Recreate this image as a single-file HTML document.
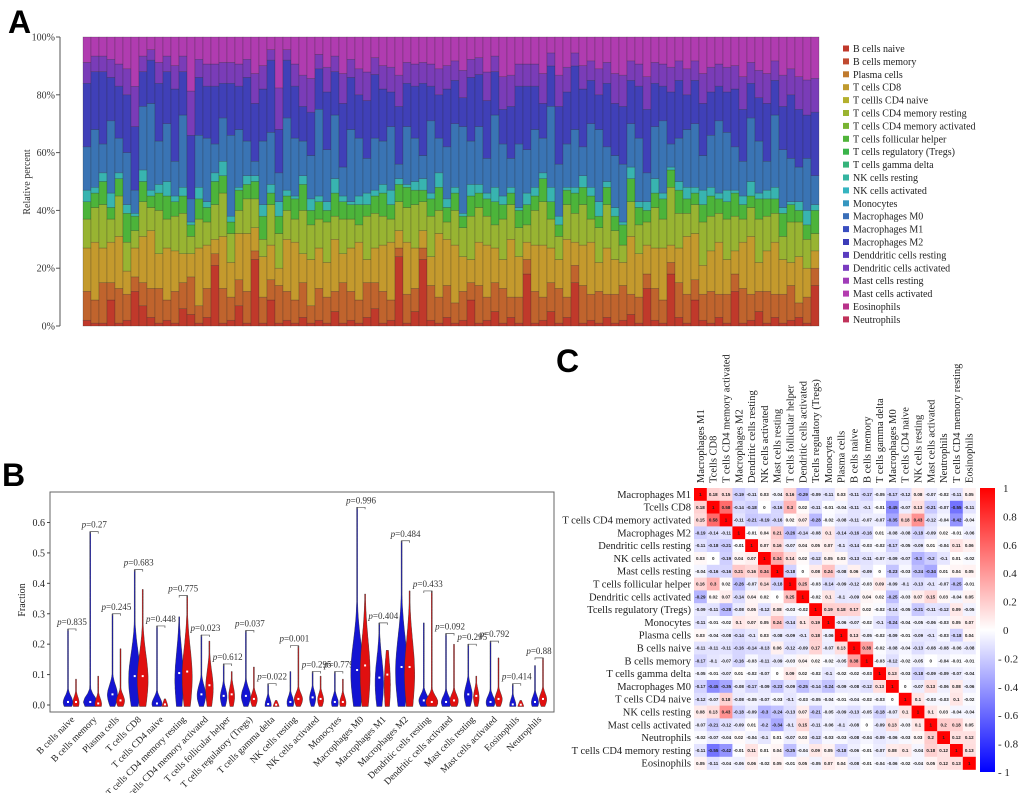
<!DOCTYPE html>
<html><head><meta charset="utf-8"><style>
html,body{margin:0;padding:0;background:#fff;}
svg{display:block;font-family:"Liberation Serif",serif;}
.pl{font-family:"Liberation Sans",sans-serif;font-weight:bold;}
</style></head><body>
<svg id="fig" width="1020" height="793" viewBox="0 0 1020 793" xmlns="http://www.w3.org/2000/svg">
<text class="pl" x="8" y="33" font-size="32">A</text>
<text class="pl" x="2" y="486" font-size="32">B</text>
<text class="pl" x="556" y="372" font-size="32">C</text>
<g id="pa"></g>
<g id="pb"></g>
<g id="pc"></g>
</svg>
<script>
// ===== Panel A data (segment heights in %, per sample) =====
const aRed=[2,1,1,9,1,2,12,7,3,1,2,1,6,4,1,3,21,1,2,7,1,23,1,9,1,2,1,3,1,2,1,5,1,2,1,3,6,1,2,24,1,5,23,2,1,3,1,2,9,1,2,5,1,3,1,18,1,2,5,1,3,15,1,2,1,3,1,2,4,1,13,2,1,18,3,1,9,2,1,3,1,12,1,2,5,1,3,1,2,3,1,14];
const aOrange=[10,8,14,6,12,9,5,8,10,12,7,11,9,13,6,10,4,12,8,9,11,3,9,7,13,10,8,12,6,11,9,7,14,10,8,12,9,11,7,3,10,8,4,12,9,11,7,10,6,13,8,10,12,7,9,5,11,8,10,12,7,6,13,9,11,8,10,12,7,9,5,11,8,4,12,10,7,9,11,8,10,6,12,9,7,11,8,10,12,5,9,6];
const aGold=[15,20,12,14,18,8,10,16,20,12,18,14,10,8,20,15,5,18,12,16,20,8,14,12,6,18,20,10,16,14,12,18,10,15,20,8,12,16,20,6,18,14,6,10,22,16,20,12,8,15,18,12,10,20,14,6,16,18,12,10,20,8,14,18,10,16,12,8,20,15,10,14,18,6,12,20,16,10,14,18,12,8,16,20,10,14,18,12,8,16,10,6];
const aLime=[10,12,15,8,14,10,6,12,8,15,10,12,14,6,10,8,12,15,10,8,12,10,6,14,12,10,8,15,12,10,14,8,12,10,6,15,12,10,8,10,12,15,10,14,8,6,12,10,15,12,10,8,14,12,10,6,12,15,10,8,12,10,14,8,12,15,10,6,12,10,8,14,10,20,12,8,10,15,12,10,14,12,8,10,15,12,10,8,14,12,10,6];
const aGreen=[6,5,8,4,6,10,5,7,4,6,8,5,6,4,7,5,8,6,4,7,5,6,8,4,6,5,7,9,5,6,4,8,6,5,7,4,6,8,5,6,7,5,4,6,8,5,6,4,7,5,6,8,5,4,6,7,5,8,6,4,5,7,6,8,4,6,5,7,8,6,4,5,7,6,8,5,4,6,7,5,6,8,5,4,7,6,5,8,6,4,5,8];
const aCyan=[4,2,3,5,2,3,1,4,2,3,5,2,3,1,4,2,3,5,2,1,3,2,4,3,5,2,1,3,4,2,3,5,2,1,3,4,2,3,5,2,1,3,4,2,5,3,2,1,4,3,2,5,3,2,1,4,3,2,5,3,1,2,4,3,5,2,3,1,4,2,3,5,2,1,3,4,2,5,3,2,4,1,3,5,2,3,4,2,1,3,5,2];
const aM0=[15,20,10,25,12,18,8,22,30,15,20,12,25,8,18,22,10,15,28,20,12,5,22,18,10,25,20,12,15,30,18,22,10,25,20,12,18,15,22,5,20,15,8,25,12,18,22,30,15,20,12,25,18,10,22,15,20,12,28,18,15,20,10,22,25,12,18,20,15,22,10,18,25,8,15,20,22,12,18,25,20,15,12,22,18,10,25,20,15,12,18,10];
const aM2=[22,20,25,15,18,20,22,12,15,20,18,25,15,22,20,18,20,12,18,15,22,20,18,25,15,20,18,12,15,14,20,15,22,18,15,20,22,18,12,20,15,18,25,12,15,20,15,10,22,18,20,15,12,18,20,22,15,12,14,20,18,22,20,15,12,22,18,20,15,18,22,15,12,18,20,12,15,18,15,12,14,20,18,12,15,20,12,15,22,20,15,22];
const aTicks=["0%","20%","40%","60%","80%","100%"];
const legendNames=["B cells naive","B cells memory","Plasma cells","T cells CD8","T cellls CD4 naive","T cells CD4 memory resting","T cells CD4 memory activated","T cells follicular helper","T cells regulatory (Tregs)","T cells gamma delta","NK cells resting","NK cells activated","Monocytes","Macrophages M0","Macrophages M1","Macrophages M2","Denddritic cells resting","Dendritic cells activated","Mast cells resting","Mast cells activated","Eosinophils","Neutrophils"];
const legendColors=["#c0392b","#c04a30","#c07a2d","#c09a2d","#b4b02d","#9ab430","#78b432","#50b43a","#3ab44a","#35b47a","#35b4a0","#35b4c0","#3596c0","#3a6eb8","#3a4ec0","#3c3cb8","#5a3cc0","#7a3cc0","#a03cb8","#b43cb0","#b8328a","#c0325a"];

// ===== Panel B data =====
const bCats=["B cells naive","B cells memory","Plasma cells","T cells CD8","T cells CD4 naive","T cells CD4 memory resting","T cells CD4 memory activated","T cells follicular helper","T cells regulatory (Tregs)","T cells gamma delta","NK cells resting","NK cells activated","Monocytes","Macrophages M0","Macrophages M1","Macrophages M2","Dendritic cells resting","Dendritic cells activated","Mast cells resting","Mast cells activated","Eosinophils","Neutrophils"];
const bBlueMax=[0.25,0.57,0.30,0.445,0.26,0.29,0.23,0.135,0.245,0.07,0.11,0.11,0.11,0.65,0.27,0.54,0.27,0.235,0.20,0.21,0.07,0.13];
const bRedMax=[0.085,0.095,0.185,0.38,0.02,0.36,0.21,0.11,0.125,0.015,0.195,0.095,0.085,0.365,0.18,0.375,0.375,0.20,0.095,0.155,0.015,0.155];
const bBlueMed=[0.01,0.01,0.035,0.095,0.005,0.105,0.035,0.03,0.03,0.003,0.01,0.025,0.01,0.115,0.09,0.125,0.015,0.01,0.035,0.01,0.002,0.01];
const bRedMed=[0.01,0.005,0.015,0.095,0.002,0.11,0.065,0.035,0.02,0.001,0.02,0.02,0.01,0.13,0.10,0.125,0.01,0.015,0.03,0.02,0.001,0.02];
const bPvals=["0.835","0.27","0.245","0.683","0.448","0.775","0.023","0.612","0.037","0.022","0.001","0.295","0.779","0.996","0.404","0.484","0.433","0.092","0.295","0.792","0.414","0.88"];
const bTicks=[0,0.1,0.2,0.3,0.4,0.5,0.6];

// ===== Panel C data =====
const cNames=["Macrophages M1","Tcells CD8","T cells CD4 memory activated","Macrophages M2","Dendritic cells resting","NK cells activated","Mast cells resting","T cells follicular helper","Dendritic cells activated","Tcells regulatory (Tregs)","Monocytes","Plasma cells","B cells naive","B cells memory","T cells gamma delta","Macrophages M0","T cells CD4 naive","NK cells resting","Mast cells activated","Neutrophils","T cells CD4 memory resting","Eosinophils"];
const cR1=[1,0.18,0.15,-0.19,-0.11,0.03,-0.04,0.16,-0.29,-0.09,-0.11,0.03,-0.11,-0.17,-0.05,-0.17,-0.12,0.08,-0.07,-0.02,-0.11,0.05];
const cR2=[0.18,1,0.58,-0.14,-0.18,0,-0.16,0.3,0.02,-0.11,-0.01,-0.04,-0.11,-0.1,-0.01,-0.45,-0.07,0.13,-0.21,-0.07,-0.55,-0.11];
const cR3=[0.15,0.58,1,-0.11,-0.21,-0.19,-0.16,0.02,0.07,-0.28,-0.02,-0.08,-0.11,-0.07,-0.07,-0.35,0.18,0.43,-0.12,-0.04,-0.42,-0.04];
const cR4=[-0.19,-0.14,-0.11,1,-0.01,0.04,0.21,-0.26,-0.14,-0.08,0.1,-0.14,-0.16,-0.16,0.01,-0.08,-0.08,-0.18,-0.09,0.02,-0.01,-0.06];
const cR5=[-0.11,-0.18,-0.21,-0.01,1,0.07,0.16,-0.07,0.04,0.05,0.07,-0.1,-0.14,-0.03,-0.02,-0.17,-0.05,-0.09,0.01,-0.04,0.11,0.06];
const cR6=[0.03,0,-0.19,0.04,0.07,1,0.34,0.14,0.02,-0.12,0.05,0.03,-0.13,-0.11,-0.07,-0.09,-0.07,-0.3,-0.2,-0.1,0.01,-0.02];
const cR7=[-0.04,-0.16,-0.16,0.21,0.16,0.34,1,-0.18,0,0.08,0.24,-0.08,0.06,-0.09,0,-0.23,-0.03,-0.24,-0.34,0.01,0.04,0.05];
const cR8=[0.16,0.3,0.02,-0.26,-0.07,0.14,-0.18,1,0.25,-0.03,-0.14,-0.09,-0.12,-0.03,0.09,-0.09,-0.1,-0.13,-0.1,-0.07,-0.25,-0.01];
const cR9=[-0.29,0.02,0.07,-0.14,0.04,0.02,0,0.25,1,-0.02,0.1,-0.1,-0.09,0.04,0.02,-0.25,-0.03,0.07,0.15,0.03,-0.04,0.05];
const cR10=[-0.09,-0.11,-0.28,-0.08,0.05,-0.12,0.08,-0.03,-0.02,1,0.19,0.18,0.17,0.02,-0.02,-0.14,-0.05,-0.21,-0.11,-0.12,0.09,-0.05];
const cR11=[-0.11,-0.01,-0.02,0.1,0.07,0.05,0.24,-0.14,0.1,0.19,1,-0.06,-0.07,-0.02,-0.1,-0.24,-0.04,-0.05,-0.06,-0.03,0.05,0.07];
const cR12=[0.03,-0.04,-0.08,-0.14,-0.1,0.03,-0.08,-0.09,-0.1,0.18,-0.06,1,0.13,-0.05,-0.02,-0.09,-0.01,-0.09,-0.1,-0.03,-0.18,0.04];
const cR13=[-0.11,-0.11,-0.11,-0.16,-0.14,-0.13,0.06,-0.12,-0.09,0.17,-0.07,0.13,1,0.38,-0.02,-0.08,-0.04,-0.13,-0.08,-0.08,-0.06,-0.08];
const cR14=[-0.17,-0.1,-0.07,-0.16,-0.03,-0.11,-0.09,-0.03,0.04,0.02,-0.02,-0.05,0.38,1,-0.03,-0.12,-0.02,-0.05,0,-0.04,-0.01,-0.01];
const cR15=[-0.05,-0.01,-0.07,0.01,-0.02,-0.07,0,0.09,0.02,-0.02,-0.1,-0.02,-0.02,-0.03,1,0.13,-0.03,-0.18,-0.09,-0.09,-0.07,-0.04];
const cR16=[-0.17,-0.45,-0.35,-0.08,-0.17,-0.09,-0.23,-0.09,-0.25,-0.14,-0.24,-0.09,-0.08,-0.12,0.13,1,0,-0.07,0.13,-0.06,0.08,-0.06];
const cR17=[-0.12,-0.07,0.18,-0.08,-0.05,-0.07,-0.03,-0.1,-0.03,-0.05,-0.04,-0.01,-0.04,-0.02,-0.03,0,1,0.1,-0.03,-0.03,0.1,-0.02];
const cR18=[0.08,0.13,0.43,-0.18,-0.09,-0.3,-0.24,-0.13,0.07,-0.21,-0.05,-0.09,-0.13,-0.05,-0.18,-0.07,0.1,1,0.1,0.03,-0.04,-0.04];
const cR19=[-0.07,-0.21,-0.12,-0.09,0.01,-0.2,-0.34,-0.1,0.15,-0.11,-0.06,-0.1,-0.08,0,-0.09,0.13,-0.03,0.1,1,0.2,0.18,0.05];
const cR20=[-0.02,-0.07,-0.04,0.02,-0.04,-0.1,0.01,-0.07,0.03,-0.12,-0.03,-0.03,-0.08,-0.04,-0.09,-0.06,-0.03,0.03,0.2,1,0.12,0.12];
const cR21=[-0.11,-0.55,-0.42,-0.01,0.11,0.01,0.04,-0.25,-0.04,0.09,0.05,-0.18,-0.06,-0.01,-0.07,0.08,0.1,-0.04,0.18,0.12,1,0.13];
const cR22=[0.05,-0.11,-0.04,-0.06,0.06,-0.02,0.05,-0.01,0.05,-0.05,0.07,0.04,-0.08,-0.01,-0.04,-0.06,-0.02,-0.04,0.05,0.12,0.13,1];
const cMatrix=[cR1,cR2,cR3,cR4,cR5,cR6,cR7,cR8,cR9,cR10,cR11,cR12,cR13,cR14,cR15,cR16,cR17,cR18,cR19,cR20,cR21,cR22];
const cbTicks=[1,0.8,0.6,0.4,0.2,0,-0.2,-0.4,-0.6,-0.8,-1];

const NS="http://www.w3.org/2000/svg";
function mk(parent,tag,attrs,text){const e=document.createElementNS(NS,tag);for(const k in attrs)e.setAttribute(k,attrs[k]);if(text!==undefined)e.textContent=text;parent.appendChild(e);return e;}

// ===== Panel A =====
(function(){
  const g=document.getElementById('pa');
  const x0=83,x1=819,yTop=37,yBot=326;
  const y=v=>yBot-(v/100)*(yBot-yTop);
  const n=aRed.length,bw=(x1-x0)/n;
  const ax=mk(g,'line',{x1:60,y1:yTop,x2:60,y2:yBot,stroke:'#555','stroke-width':1});
  
  
  aTicks.forEach((t,i)=>{
    const yy=y(i*20);
    const tk=mk(g,'line',{x1:56,y1:yy,x2:60,y2:yy,stroke:'#555'});
    
    
    const tl=mk(g,'text',{x:55,y:yy+3.5,'font-size':10,'text-anchor':'end',fill:'#333'},t);
    
    
  });
  const yt=mk(g,'text',{x:0,y:0,'font-size':10,'text-anchor':'middle',fill:'#333',transform:'translate(30,182) rotate(-90)'},'Relative percent');
  
  
  const segs=[[aRed,'#c0392b'],[aOrange,'#c0642d'],[aGold,'#c49a2d'],[aLime,'#98b432'],[aGreen,'#4cb43a'],[aCyan,'#38b4b0'],[aM0,'#3a74b4'],[aM2,'#4040b8']];
  for(let i=0;i<n;i++){
    let cum=0;
    const bx=x0+i*bw;
    segs.forEach(([arr,col])=>{
      const v=Math.min(arr[i],100-cum);
      const r=mk(g,'rect',{x:bx,y:y(cum+v),width:bw,height:(v/100)*(yBot-yTop),fill:col,stroke:'rgba(40,40,40,0.45)','stroke-width':0.5});
      
      
      cum+=v;
    });
    const rest=100-cum;
    const v1=rest*0.45;
    const r1=mk(g,'rect',{x:bx,y:y(cum+v1),width:bw,height:(v1/100)*(yBot-yTop),fill:'#7a3cb8',stroke:'rgba(40,40,40,0.45)','stroke-width':0.5});
    
    
    const r2=mk(g,'rect',{x:bx,y:yTop,width:bw,height:((rest-v1)/100)*(yBot-yTop),fill:'#b03cb0',stroke:'rgba(40,40,40,0.45)','stroke-width':0.5});
    
    
  }
  legendNames.forEach((nm,i)=>{
    const yy=49+i*12.9;
    const sq=mk(g,'rect',{x:843,y:yy-3.5,width:6,height:6,fill:legendColors[i]});
    
    
    const t=mk(g,'text',{x:853,y:yy+3,'font-size':10,fill:'#222'},nm);
    
    
  });
})();

// ===== Panel B =====
(function(){
  const g=document.getElementById('pb');
  const L=50,R=554,T=492,B=712;
  const y0=705,pxPer=(705-522.5)/0.6;
  const y=v=>y0-v*pxPer;
  const box=mk(g,'rect',{x:L,y:T,width:R-L,height:B-T,fill:'none',stroke:'#666','stroke-width':1});
  
  
  bTicks.forEach(t=>{
    const yy=y(t);
    const tk=mk(g,'line',{x1:L-3,y1:yy,x2:L,y2:yy,stroke:'#444'});
    
    
    const tl=mk(g,'text',{x:L-5,y:yy+3.5,'font-size':10,'text-anchor':'end',fill:'#222'},t.toFixed(1));
    
    
  });
  const yt=mk(g,'text',{x:0,y:0,'font-size':10,'text-anchor':'middle',fill:'#222',transform:'translate(25,600) rotate(-90)'},'Fraction');
  
  
  const cx0=72,step=(539-72)/21;
  function violin(cx,max,med,col,name){
    const sd=Math.max(0.02,med*0.9);
    const w=Math.min(7,2.5+max*10);
    const pts=[];const N=40;
    const lo=-0.005;
    for(let k=0;k<=N;k++){const v=lo+(max-lo)*k/N;const hw=Math.max(0.5,w*Math.exp(-Math.pow((v-med)/sd,2)/2)*(1-0.6*v/max));pts.push([cx+hw,y(v)]);}
    const left=[];for(let k=N;k>=0;k--){const v=lo+(max-lo)*k/N;const hw=Math.max(0.5,w*Math.exp(-Math.pow((v-med)/sd,2)/2)*(1-0.6*v/max));left.push([cx-hw,y(v)]);}
    const p=mk(g,'polygon',{points:pts.concat(left).map(q=>q[0].toFixed(1)+','+q[1].toFixed(1)).join(' '),fill:col,stroke:'#333','stroke-width':0.4});
    
    
    const d=mk(g,'rect',{x:cx-1,y:y(med)-1,width:2,height:2,fill:'#fff'});
    
    
  }
  bCats.forEach((c,i)=>{
    const cx=cx0+i*step;
    violin(cx-4,bBlueMax[i],bBlueMed[i],'#1414d2','violin-normal');
    violin(cx+4,bRedMax[i],bRedMed[i],'#e01010','violin-tumor');
    const top=Math.max(bBlueMax[i],bRedMax[i]);
    const by=y(top);
    const br=mk(g,'path',{d:`M${cx-4},${by+2}V${by}H${cx+4}V${by+2}`,fill:'none',stroke:'#555','stroke-width':0.7});
    
    
    const pt=mk(g,'text',{x:cx,y:by-4,'font-size':9,'text-anchor':'middle',fill:'#333'});
    
    
    mk(pt,'tspan',{'font-style':'italic'},'p');
    mk(pt,'tspan',{},'='+bPvals[i]);
    const xl=mk(g,'text',{x:0,y:0,'font-size':9.5,'text-anchor':'end',fill:'#222',transform:`translate(${cx+3},${B+8}) rotate(-45)`},c);
    
    
  });
})();

// ===== Panel C =====
(function(){
  const g=document.getElementById('pc');
  const X0=694,Y0=488,cs=12.8;
  function col(v){
    const t=Math.max(-1,Math.min(1,v));
    if(t>=0){const k=Math.round(255*(1-t));return `rgb(255,${k},${k})`;}
    const k=Math.round(255*(1+t));return `rgb(${k},${k},255)`;
  }
  cNames.forEach((nm,i)=>{
    const rl=mk(g,'text',{x:X0-3,y:Y0+i*cs+cs/2+3.5,'font-size':10.5,'text-anchor':'end',fill:'#222'},nm);
    
    
    const cl=mk(g,'text',{x:0,y:0,'font-size':10.5,'text-anchor':'start',fill:'#222',transform:`translate(${X0+i*cs+cs/2+3.5},${Y0-5}) rotate(-90)`},nm);
    
    
  });
  cMatrix.forEach((row,i)=>{
    row.forEach((v,j)=>{
      const r=mk(g,'rect',{x:X0+j*cs,y:Y0+i*cs,width:cs+0.2,height:cs+0.2,fill:col(v)});
      
      
      const t=mk(g,'text',{x:X0+j*cs+cs/2,y:Y0+i*cs+cs/2+1.6,'font-size':4.5,'font-weight':'bold','text-anchor':'middle',fill:'#222','font-family':'Liberation Sans,sans-serif'},String(v));
      
      
    });
  });
  const defs=mk(g,'defs',{});
  const lg=mk(defs,'linearGradient',{id:'cbg',x1:0,y1:0,x2:0,y2:1});
  mk(lg,'stop',{offset:'0','stop-color':'#ff0000'});
  mk(lg,'stop',{offset:'0.5','stop-color':'#ffffff'});
  mk(lg,'stop',{offset:'1','stop-color':'#0000ff'});
  const cbT=488,cbB=772;
  const cb=mk(g,'rect',{x:980,y:cbT,width:15,height:cbB-cbT,fill:'url(#cbg)'});
  
  
  cbTicks.forEach(t=>{
    const yy=cbT+(1-t)/2*(cbB-cbT);
    const lab=t<0?'- '+String(-t):String(t);
    const tl=mk(g,'text',{x:t<0?998:1003,y:yy+4,'font-size':11,fill:'#222'},lab);
    
    
  });
})();
</script>
</body></html>
